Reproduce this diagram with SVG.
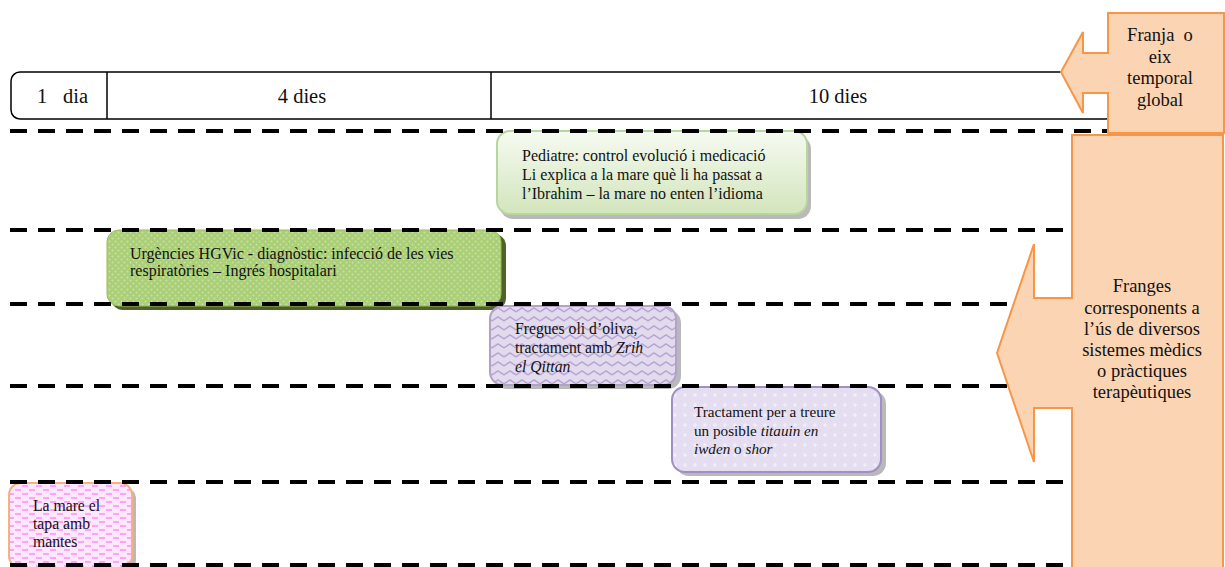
<svg xmlns="http://www.w3.org/2000/svg" width="1225" height="567" viewBox="0 0 1225 567">
<style>
text{font-family:"Liberation Serif","Times New Roman",serif;fill:#111}
.it{font-family:"Liberation Serif","DejaVu Serif",serif;font-style:italic}
.t20{font-size:20.5px}
.t16{font-size:16px}
.t157{font-size:15.7px}
.t15{font-size:15.2px}
.t18{font-size:18.5px}
.lane{stroke:#000;stroke-width:4;stroke-dasharray:17 11;fill:none}
.shadow{fill:#7f7f7f;opacity:0.55}
.callout{fill:#fbd4b4;stroke:#f79646;stroke-width:2}
</style>
<defs>
<linearGradient id="gGreen" x1="0" y1="0" x2="0" y2="1">
<stop offset="0" stop-color="#f6faf1"/>
<stop offset="1" stop-color="#d2e5bc"/>
</linearGradient>
<pattern id="pDots" width="6" height="6" patternUnits="userSpaceOnUse">
<rect width="6" height="6" fill="#abcf78"/>
<circle cx="1.5" cy="1.5" r="1" fill="#c9e2a4"/>
<circle cx="4.5" cy="4.5" r="1" fill="#c9e2a4"/>
</pattern>
<pattern id="pZig" width="12" height="9" patternUnits="userSpaceOnUse">
<rect width="12" height="9" fill="#e2daed"/>
<path d="M0,6 L6,2 L12,6" fill="none" stroke="#b8a5d3" stroke-width="1.5"/>
</pattern>
<pattern id="pPlus" width="10" height="10" patternUnits="userSpaceOnUse">
<rect width="10" height="10" fill="#e4def0"/>
<path d="M5,3 V7 M3,5 H7" stroke="#f5f2fa" stroke-width="1"/>
<circle cx="0" cy="0" r="0.8" fill="#cfc5e2"/>
</pattern>
<pattern id="pPink" width="14" height="8" patternUnits="userSpaceOnUse">
<rect width="14" height="8" fill="#ffe8ff"/>
<path d="M1,2 H7 M8,6 H14" stroke="#ff8cf5" stroke-width="1.4"/>
</pattern>
</defs>

<g id="timeline">
<rect x="11" y="72" width="1104" height="47" rx="9" fill="#fff" stroke="#000" stroke-width="1.5"/>
<line x1="107" y1="72" x2="107" y2="119" stroke="#000" stroke-width="1.5"/>
<line x1="491" y1="72" x2="491" y2="119" stroke="#000" stroke-width="1.5"/>
<text class="t20" x="37" y="103">1</text>
<text class="t20" x="63" y="103">dia</text>
<text class="t20" x="302" y="103" text-anchor="middle">4 dies</text>
<text class="t20" x="838" y="103" text-anchor="middle">10 dies</text>
</g>

<g id="node-pediatre">
<rect class="shadow" x="500" y="136" width="311" height="83" rx="13"/>
<rect x="497" y="131" width="310" height="83" rx="13" fill="url(#gGreen)" stroke="#b7d59c" stroke-width="2"/>
<text class="t16" x="522" y="161">Pediatre: control evolució i medicació</text>
<text class="t16" x="522" y="180">Li explica a la mare què li ha passat a</text>
<text class="t16" x="522" y="199">l’Ibrahim – la mare no enten l’idioma</text>
</g>

<g id="node-urgencies">
<rect x="111" y="234" width="395" height="76" rx="12" fill="#4f6228"/>
<rect x="107" y="230" width="394" height="76" rx="12" fill="url(#pDots)" stroke="#9bbb59" stroke-width="1"/>
<text class="t16" x="130" y="259">Urgències HGVic - diagnòstic: infecció de les vies</text>
<text class="t16" x="130" y="276">respiratòries – Ingrés hospitalari</text>
</g>

<g id="node-fregues">
<rect class="shadow" x="494" y="310" width="187" height="79" rx="13"/>
<rect x="490" y="306" width="186" height="79" rx="13" fill="url(#pZig)" stroke="#b3a2c7" stroke-width="2"/>
<text class="t157" x="515" y="334">Fregues oli d’oliva,</text>
<text class="t157" x="515" y="353">tractament amb <tspan class="it">Zrih</tspan></text>
<text class="t157 it" x="515" y="372">el Qittan</text>
</g>

<g id="node-tractament">
<rect class="shadow" x="676" y="391" width="210" height="85" rx="13"/>
<rect x="672" y="387" width="209" height="85" rx="13" fill="url(#pPlus)" stroke="#a08ec4" stroke-width="2"/>
<text class="t15" x="694" y="417">Tractament per a treure</text>
<text class="t15" x="694" y="436">un posible <tspan class="it">titauin en</tspan></text>
<text class="t15" x="694" y="454"><tspan class="it">iwden</tspan> o <tspan class="it">shor</tspan></text>
</g>

<g id="node-mare">
<rect class="shadow" x="12" y="487" width="124" height="85" rx="12"/>
<rect x="9" y="483" width="123" height="85" rx="12" fill="url(#pPink)" stroke="#f6b27e" stroke-width="2"/>
<text class="t157" x="33" y="511">La mare el</text>
<text class="t157" x="33" y="529">tapa amb</text>
<text class="t157" x="33" y="547">mantes</text>
</g>

<g id="lanes">
<line class="lane" x1="10" y1="131" x2="1108" y2="131"/>
<line class="lane" x1="10" y1="230" x2="1063" y2="230"/>
<line class="lane" x1="10" y1="304" x2="1063" y2="304"/>
<line class="lane" x1="10" y1="386" x2="1063" y2="386"/>
<line class="lane" x1="10" y1="482" x2="1063" y2="482"/>
<line class="lane" x1="10" y1="565" x2="1063" y2="565"/>
</g>

<g id="callout-temporal">
<path class="callout" d="M1108,13 H1224 V133 H1108 V93 H1083 V113 L1061,72 L1083,32 V53 H1108 Z"/>
<text class="t18" text-anchor="middle" x="1160" y="41">Franja&#160; o</text>
<text class="t18" text-anchor="middle" x="1160" y="62.5">eix</text>
<text class="t18" text-anchor="middle" x="1160" y="84">temporal</text>
<text class="t18" text-anchor="middle" x="1160" y="105.5">global</text>
</g>

<g id="callout-franges">
<path class="callout" d="M1072,135 H1223 V572 H1072 V408 H1034 V462 L997,353 L1034,244 V298 H1072 Z"/>
<text class="t18" text-anchor="middle" x="1142" y="292">Franges</text>
<text class="t18" text-anchor="middle" x="1142" y="313.5">corresponents a</text>
<text class="t18" text-anchor="middle" x="1142" y="335">l’ús de diversos</text>
<text class="t18" text-anchor="middle" x="1142" y="356">sistemes mèdics</text>
<text class="t18" text-anchor="middle" x="1142" y="377">o pràctiques</text>
<text class="t18" text-anchor="middle" x="1142" y="398">terapèutiques</text>
</g>
</svg>
